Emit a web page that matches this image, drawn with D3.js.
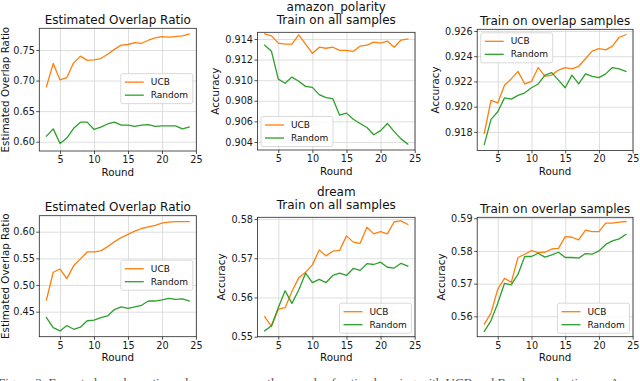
<!DOCTYPE html>
<html>
<head>
<meta charset="utf-8">
<script src="https://cdn.jsdelivr.net/npm/d3@7"></script>
<style>
  body { margin: 0; background: #fff; }
  svg { display: block; font-family: "DejaVu Sans", sans-serif; }
</style>
</head>
<body>
<div id="chart"></div>
<script>
// Active learning rounds (x values shared by every panel)
const rounds = [3, 4, 5, 6, 7, 8, 9, 10, 11, 12, 13, 14, 15, 16, 17, 18, 19, 20, 21, 22, 23, 24];
const seriesNames = ['UCB', 'Random'];
const roundTicks = [5, 10, 15, 20, 25];

// amazon_polarity
const amazonRatioUCB = [0.690, 0.728, 0.701, 0.705, 0.729, 0.740, 0.733, 0.734, 0.736, 0.743, 0.751, 0.758, 0.759, 0.762, 0.761, 0.766, 0.770, 0.772, 0.771, 0.772, 0.773, 0.776];
const amazonRatioRandom = [0.609, 0.621, 0.597, 0.606, 0.622, 0.632, 0.632, 0.620, 0.624, 0.629, 0.632, 0.627, 0.627, 0.625, 0.627, 0.628, 0.625, 0.626, 0.626, 0.626, 0.621, 0.624];
const amazonAllUCB = [0.9145, 0.9143, 0.9136, 0.9135, 0.9135, 0.9144, 0.9135, 0.9126, 0.9132, 0.9131, 0.9132, 0.9129, 0.9129, 0.9128, 0.9133, 0.9134, 0.9137, 0.9136, 0.9138, 0.9132, 0.9139, 0.9140];
const amazonAllRandom = [0.9134, 0.9128, 0.9101, 0.9097, 0.9103, 0.9099, 0.9094, 0.9093, 0.9086, 0.9083, 0.9082, 0.9066, 0.9068, 0.9062, 0.9058, 0.9054, 0.9047, 0.9051, 0.9058, 0.9050, 0.9043, 0.9038];
const amazonOverlapUCB = [0.9179, 0.9205, 0.9203, 0.9217, 0.9222, 0.9228, 0.9218, 0.9220, 0.9231, 0.9224, 0.9225, 0.9229, 0.9231, 0.9230, 0.9232, 0.9238, 0.9244, 0.9246, 0.9245, 0.9248, 0.9255, 0.9257];
const amazonOverlapRandom = [0.9170, 0.9190, 0.9196, 0.9207, 0.9206, 0.9209, 0.9211, 0.9215, 0.9218, 0.9225, 0.9227, 0.9221, 0.9215, 0.9225, 0.9218, 0.9226, 0.9224, 0.9223, 0.9226, 0.9231, 0.9230, 0.9228];

// dream
const dreamRatioUCB = [0.472, 0.524, 0.530, 0.512, 0.536, 0.549, 0.562, 0.562, 0.564, 0.572, 0.581, 0.589, 0.595, 0.601, 0.606, 0.609, 0.612, 0.616, 0.618, 0.619, 0.619, 0.619];
const dreamRatioRandom = [0.439, 0.420, 0.414, 0.424, 0.417, 0.421, 0.433, 0.434, 0.439, 0.442, 0.454, 0.459, 0.456, 0.459, 0.462, 0.470, 0.470, 0.472, 0.475, 0.473, 0.474, 0.470];
const dreamAllUCB = [0.5551, 0.5526, 0.5570, 0.5574, 0.5615, 0.5650, 0.5664, 0.5683, 0.5721, 0.5706, 0.5718, 0.5720, 0.5757, 0.5741, 0.5738, 0.5779, 0.5762, 0.5768, 0.5762, 0.5793, 0.5795, 0.5786];
const dreamAllRandom = [0.5515, 0.5528, 0.5574, 0.5617, 0.5585, 0.5619, 0.5662, 0.5638, 0.5646, 0.5638, 0.5656, 0.5662, 0.5656, 0.5674, 0.5669, 0.5686, 0.5684, 0.5690, 0.5677, 0.5675, 0.5687, 0.5680];
const dreamOverlapUCB = [0.5576, 0.5610, 0.5683, 0.5716, 0.5704, 0.5780, 0.5790, 0.5801, 0.5795, 0.5796, 0.5806, 0.5808, 0.5844, 0.5842, 0.5834, 0.5864, 0.5859, 0.5859, 0.5885, 0.5885, 0.5888, 0.5890];
const dreamOverlapRandom = [0.5554, 0.5587, 0.5640, 0.5701, 0.5696, 0.5729, 0.5783, 0.5783, 0.5793, 0.5781, 0.5788, 0.5796, 0.5780, 0.5780, 0.5778, 0.5792, 0.5790, 0.5800, 0.5820, 0.5831, 0.5837, 0.5851];

// y tick labels per panel
const amazonRatioTicks = [0.60, 0.65, 0.70, 0.75];
const amazonAllTicks = [0.904, 0.906, 0.908, 0.910, 0.912, 0.914];
const amazonOverlapTicks = [0.918, 0.920, 0.922, 0.924, 0.926];
const dreamRatioTicks = [0.45, 0.50, 0.55, 0.60];
const dreamAllTicks = [0.55, 0.56, 0.57, 0.58];
const dreamOverlapTicks = [0.56, 0.57, 0.58, 0.59];

const caption = 'Figure 3: Expected overlap ratio and accuracy over the rounds of active learning with UCB and Random selection on Amazon Polarity and DREAM data.';

const colors = { UCB: '#ff7f0e', Random: '#2ca02c' };

// Panel layout (matplotlib subplots, one per figure)
const panels = [
  { box: [39.3, 196.3, 28.3, 151], yDomain: [0.5848, 0.7855], title: ['Estimated Overlap Ratio'], ylabel: 'Estimated Overlap Ratio',
    ucb: amazonRatioUCB, random: amazonRatioRandom, ticks: amazonRatioTicks, fmt: '.2f', legend: 'center right' },
  { box: [257.5, 415, 32.3, 150], yDomain: [0.90322, 0.91465], title: ['amazon_polarity', 'Train on all samples'], ylabel: 'Accuracy',
    ucb: amazonAllUCB, random: amazonAllRandom, ticks: amazonAllTicks, fmt: '.3f', legend: 'lower left' },
  { box: [477.2, 633, 29.3, 150.5], yDomain: [0.91653, 0.92613], title: ['Train on overlap samples'], ylabel: 'Accuracy',
    ucb: amazonOverlapUCB, random: amazonOverlapRandom, ticks: amazonOverlapTicks, fmt: '.3f', legend: 'upper left' },
  { box: [39.3, 196.3, 215.7, 336.7], yDomain: [0.4031, 0.6300], title: ['Estimated Overlap Ratio'], ylabel: 'Estimated Overlap Ratio',
    ucb: dreamRatioUCB, random: dreamRatioRandom, ticks: dreamRatioTicks, fmt: '.2f', legend: 'center right' },
  { box: [257.5, 415, 217.3, 336.7], yDomain: [0.5500, 0.58043], title: ['dream', 'Train on all samples'], ylabel: 'Accuracy',
    ucb: dreamAllUCB, random: dreamAllRandom, ticks: dreamAllTicks, fmt: '.2f', legend: 'lower right' },
  { box: [477.2, 633, 217.3, 336.7], yDomain: [0.55376, 0.5903], title: ['Train on overlap samples'], ylabel: 'Accuracy',
    ucb: dreamOverlapUCB, random: dreamOverlapRandom, ticks: dreamOverlapTicks, fmt: '.2f', legend: 'lower right' }
];

const width = 640;
const height = 381;

const svg = d3.select('#chart')
  .append('svg')
  .attr('width', width)
  .attr('height', height)
  .attr('viewBox', `0 0 ${width} ${height}`);

function drawPanel(p) {
  const [x0, x1, y0, y1] = p.box;
  const g = svg.append('g');

  const x = d3.scaleLinear().domain([1.95, 25.05]).range([x0, x1]);
  const y = d3.scaleLinear().domain(p.yDomain).range([y1, y0]);
  const yTicks = p.ticks.filter(t => t >= p.yDomain[0] - 1e-9 && t <= p.yDomain[1] + 1e-9);

  // Grid lines
  g.append('g')
    .attr('class', 'grid x-grid')
    .attr('transform', `translate(0,${y1})`)
    .call(d3.axisBottom(x).tickValues(roundTicks).tickSize(-(y1 - y0)).tickFormat(''))
    .call(a => a.select('.domain').remove())
    .call(a => a.selectAll('line').attr('stroke', '#dadada').attr('stroke-width', 0.9));

  g.append('g')
    .attr('class', 'grid y-grid')
    .attr('transform', `translate(${x0},0)`)
    .call(d3.axisLeft(y).tickValues(yTicks).tickSize(-(x1 - x0)).tickFormat(''))
    .call(a => a.select('.domain').remove())
    .call(a => a.selectAll('line').attr('stroke', '#dadada').attr('stroke-width', 0.9));

  // Lines
  const line = d3.line()
    .x((d, i) => x(rounds[i]))
    .y(d => y(d));

  const series = [
    { name: 'UCB', data: p.ucb },
    { name: 'Random', data: p.random }
  ];

  g.append('g')
    .attr('class', 'lines')
    .selectAll('path')
    .data(series)
    .join('path')
    .attr('d', d => line(d.data))
    .attr('fill', 'none')
    .attr('stroke', d => colors[d.name])
    .attr('stroke-width', 1.3)
    .attr('stroke-linejoin', 'round')
    .attr('stroke-linecap', 'square');

  // Frame
  g.append('rect')
    .attr('x', x0)
    .attr('y', y0)
    .attr('width', x1 - x0)
    .attr('height', y1 - y0)
    .attr('fill', 'none')
    .attr('stroke', '#262626')
    .attr('stroke-width', 0.8);

  // Axes
  const xAxisG = g.append('g')
    .attr('class', 'axis x-axis')
    .attr('transform', `translate(0,${y1})`)
    .call(d3.axisBottom(x).tickValues(roundTicks).tickSize(3).tickPadding(2).tickFormat(d3.format('d')));

  const yAxisG = g.append('g')
    .attr('class', 'axis y-axis')
    .attr('transform', `translate(${x0},0)`)
    .call(d3.axisLeft(y).tickValues(yTicks).tickSize(3).tickPadding(1.5).tickFormat(d3.format(p.fmt)));

  [xAxisG, yAxisG].forEach(a => {
    a.select('.domain').remove();
    a.selectAll('line').attr('stroke', '#262626').attr('stroke-width', 0.8);
    a.selectAll('text')
      .attr('fill', '#1a1a1a')
      .style('font-size', '9.7px')
      .style('font-family', '"DejaVu Sans", sans-serif');
  });

  // Title
  const titleGap = p.title.length > 1 ? 8 : 4.5;
  g.append('text')
    .attr('text-anchor', 'middle')
    .attr('fill', '#111')
    .style('font-size', '12px')
    .selectAll('tspan')
    .data(p.title)
    .join('tspan')
    .attr('x', (x0 + x1) / 2)
    .attr('y', (d, i) => y0 - titleGap - (p.title.length - 1 - i) * 13.5)
    .text(d => d);

  // X label
  g.append('text')
    .attr('x', (x0 + x1) / 2)
    .attr('y', y1 + 24.5)
    .attr('text-anchor', 'middle')
    .attr('fill', '#111')
    .style('font-size', '10.3px')
    .text('Round');

  // Y label, placed just left of the widest tick label
  let minX = x0;
  yAxisG.selectAll('text').each(function () {
    const b = this.getBBox();
    const m = this.getCTM();
    minX = Math.min(minX, b.x + m.e);
  });
  const labelX = Math.max(minX - 6, 9);
  g.append('text')
    .attr('transform', `translate(${labelX},${(y0 + y1) / 2}) rotate(-90)`)
    .attr('text-anchor', 'middle')
    .attr('fill', '#111')
    .style('font-size', '10.3px')
    .text(p.ylabel);

  // Legend
  const legW = 72;
  const legH = 30;
  const pad = 3.5;
  let lx;
  let ly;
  if (p.legend === 'center right') {
    lx = x1 - pad - legW;
    ly = (y0 + y1) / 2 - legH / 2 - 1;
  } else if (p.legend === 'lower left') {
    lx = x0 + pad;
    ly = y1 - pad - legH;
  } else if (p.legend === 'upper left') {
    lx = x0 + pad;
    ly = y0 + pad;
  } else {
    lx = x1 - pad - legW;
    ly = y1 - pad - legH;
  }

  const legend = g.append('g')
    .attr('class', 'legend')
    .attr('transform', `translate(${lx},${ly})`);

  legend.append('rect')
    .attr('width', legW)
    .attr('height', legH)
    .attr('rx', 2)
    .attr('fill', '#fff')
    .attr('fill-opacity', 0.8)
    .attr('stroke', '#cfcfcf')
    .attr('stroke-width', 0.8);

  const items = legend.selectAll('.legend-item')
    .data(seriesNames)
    .join('g')
    .attr('class', 'legend-item')
    .attr('transform', (d, i) => `translate(0,${8.5 + i * 13})`);

  items.append('line')
    .attr('x1', 4)
    .attr('x2', 23)
    .attr('stroke', d => colors[d])
    .attr('stroke-width', 1.3);

  items.append('text')
    .attr('x', 30)
    .attr('dy', '0.35em')
    .attr('fill', '#111')
    .style('font-size', '9px')
    .text(d => d);
}

panels.forEach(drawPanel);

// Caption of the source figure, cut off at the bottom of the picture
svg.append('text')
  .attr('x', -2)
  .attr('y', 386.5)
  .attr('fill', '#555')
  .style('font-family', '"Liberation Serif", serif')
  .style('font-size', '13px')
  .text(caption);
</script>
</body>
</html>
